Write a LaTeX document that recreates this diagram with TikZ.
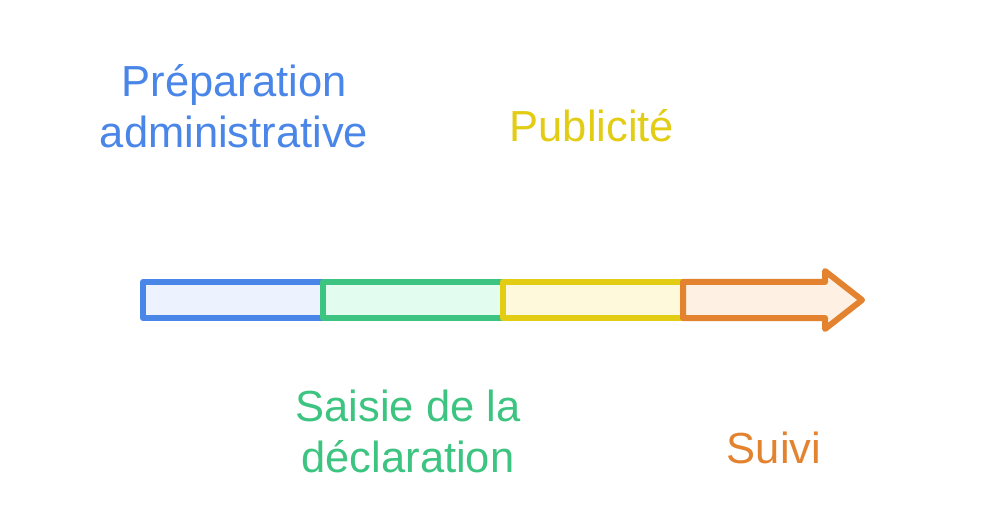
\documentclass[tikz,border=0pt]{standalone}
\usepackage{fontspec}
\setmainfont{Liberation Sans}
\definecolor{cblue}{HTML}{4A86E8}
\definecolor{fblue}{HTML}{EDF3FE}
\definecolor{cgreen}{HTML}{3CC480}
\definecolor{fgreen}{HTML}{E2FCEF}
\definecolor{cyellow}{HTML}{E2CC14}
\definecolor{fyellow}{HTML}{FFF9DC}
\definecolor{corange}{HTML}{E3822F}
\definecolor{forange}{HTML}{FFF0E4}
\tikzset{
  seg/.style={line width=6pt, line join=round, rectangle, minimum width=180pt, minimum height=36pt, inner sep=0pt, outer sep=0pt},
  lbl/.style={font=\fontsize{43.5}{51}\selectfont, align=center, inner sep=0pt, anchor=base}
}
\begin{document}
\begin{tikzpicture}[x=1pt,y=-1pt]
\useasboundingbox (0,0) rectangle (1008,518);
\node[seg, draw=cblue, fill=fblue] (s1) at (233,300) {};
\node[seg, draw=cgreen, fill=fgreen] (s2) at (413,300) {};
\node[seg, draw=cyellow, fill=fyellow] (s3) at (593,300) {};
\coordinate (a0) at (683,282);
\draw[line width=6pt, line join=round, draw=corange, fill=forange]
  (a0) -- (825,282) -- (825,271) -- (862,300) -- (825,329) -- (825,318) -- (683,318) -- cycle;
\node[lbl, text=cblue] (t1) at (234,148) {Préparation\\administrative};
\node[lbl, text=cyellow] (t3) at (592,142) {Publicité};
\node[lbl, text=cgreen] (t2) at (408,472) {Saisie de la\\déclaration};
\node[lbl, text=corange] (t4) at (774,463) {Suivi};
\end{tikzpicture}
\end{document}
